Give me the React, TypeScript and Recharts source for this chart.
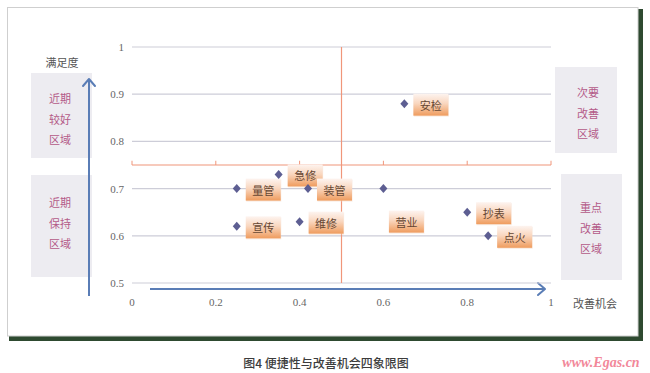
import React from "react";
import {
  ScatterChart,
  Scatter,
  XAxis,
  YAxis,
  CartesianGrid,
  ReferenceLine,
} from "recharts";

// 四象限图数据
const categories = ["安检", "急修", "量管", "装管", "营业", "宣传", "维修", "抄表", "点火"];
const improvement = [0.65, 0.35, 0.25, 0.42, 0.6, 0.25, 0.4, 0.8, 0.85];
const satisfaction = [0.88, 0.73, 0.7, 0.7, 0.7, 0.62, 0.63, 0.65, 0.6];
const xTicks = [0, 0.2, 0.4, 0.6, 0.8, 1];
const yTicks = [0.5, 0.6, 0.7, 0.8, 0.9, 1];
const xSplit = 0.5;
const ySplit = 0.75;

const points = categories.map((name, i) => ({
  name,
  x: improvement[i],
  y: satisfaction[i],
}));

const serif = "'Liberation Serif', 'Noto Sans CJK SC', serif";
const cjk = "'Noto Sans CJK SC', sans-serif";
const red = "#f0967a";
const blue = "#5a7db6";

const Diamond = (props: any) => {
  const { cx, cy } = props;
  if (cx == null || cy == null) return null;
  return (
    <polygon
      points={`${cx},${cy - 4.5} ${cx + 4},${cy} ${cx},${cy + 4.5} ${cx - 4},${cy}`}
      fill="#5d5e92"
    />
  );
};

const Tag = (props: any) => {
  const { cx, cy, payload } = props;
  if (cx == null || cy == null) return null;
  // 营业的标签放在点的右下方
  const moved = payload.name === "营业";
  const lx = cx + (moved ? 23 : 26.5);
  const ly = cy + (moved ? 33 : 1);
  return (
    <g>
      <rect x={lx - 17} y={ly - 10} width={35} height={22} fill="#f3d9c8" opacity={0.5} />
      <rect x={lx - 17.5} y={ly - 11} width={35} height={22} fill="url(#tagFill)" />
      <text
        x={lx}
        y={ly}
        textAnchor="middle"
        dominantBaseline="central"
        fontSize={11}
        fontFamily={cjk}
        fill="#654633"
      >
        {payload.name}
      </text>
    </g>
  );
};

const Arrow = ({ d, head }: { d: string; head: string }) => (
  <g stroke={blue} fill="none" strokeWidth={2}>
    <path d={d} />
    <path d={head} strokeLinecap="round" strokeLinejoin="round" />
  </g>
);

const SideBox = ({ x, y, w, h, lines, tx, ty }: any) => (
  <g>
    <rect x={x} y={y} width={w} height={h} fill="#edecf1" />
    {lines.map((t: string, i: number) => (
      <text
        key={t + i}
        x={tx}
        y={ty + i * 20.5}
        textAnchor="middle"
        dominantBaseline="central"
        fontSize={11}
        fontFamily={cjk}
        fill="#b45a88"
      >
        {t}
      </text>
    ))}
  </g>
);

export default function App() {
  return (
    <div style={{ position: "absolute", left: 0, top: 0, width: 650, height: 373, background: "#fff" }}>
      <svg width={650} height={373} style={{ position: "absolute", left: 0, top: 0 }}>
        <defs>
          <linearGradient id="tagFill" x1="0" y1="0" x2="0" y2="1">
            <stop offset="0%" stopColor="#fdf4f0" />
            <stop offset="45%" stopColor="#f9d6be" />
            <stop offset="100%" stopColor="#ef9c5e" />
          </linearGradient>
        </defs>
        {/* 外框 */}
        <rect x={9} y={336} width={634} height={5} fill="#2e4a30" />
        <rect x={638} y={9} width={5} height={332} fill="#2e4a30" />
        <rect x={7.5} y={7.5} width={630.5} height={328.5} fill="#fff" stroke="#cfcfcf" />

        <SideBox x={31} y={73} w={61} h={85} lines={["近期", "较好", "区域"]} tx={60} ty={98} />
        <SideBox x={31} y={175} w={61} h={102} lines={["近期", "保持", "区域"]} tx={60} ty={202} />
        <SideBox x={555} y={67} w={62} h={86} lines={["次要", "改善", "区域"]} tx={588} ty={92} />
        <SideBox x={561} y={174} w={61} h={106} lines={["重点", "改善", "区域"]} tx={591} ty={207} />

        <Arrow d="M89 296 L89 79" head="M83 86 L89 79 L95 86" />
        <Arrow d="M150 289 L545 289" head="M538 283 L545 289 L538 295" />

        <text x={62} y={62} textAnchor="middle" dominantBaseline="central" fontSize={11} fontFamily={cjk} fill="#555">
          满足度
        </text>
        <text x={595} y={303} textAnchor="middle" dominantBaseline="central" fontSize={11} fontFamily={cjk} fill="#555">
          改善机会
        </text>
        <text
          x={326}
          y={362}
          textAnchor="middle"
          dominantBaseline="central"
          fontSize={12}
          fontWeight={500}
          fontFamily={cjk}
          fill="#3c3c3c"
        >
          图4 便捷性与改善机会四象限图
        </text>
        <text
          x={601}
          y={362}
          textAnchor="middle"
          dominantBaseline="central"
          fontSize={14}
          fontStyle="italic"
          fontWeight="bold"
          fontFamily={serif}
          fill="#f2889a"
        >
          www.Egas.cn
        </text>
      </svg>

      <div style={{ position: "absolute", left: 0, top: 0 }}>
        <ScatterChart width={650} height={373} margin={{ top: 47, right: 99, bottom: 60, left: 92 }}>
          <CartesianGrid vertical={false} stroke="#cdcdd8" strokeWidth={1.2} />
          <XAxis
            type="number"
            dataKey="x"
            domain={[0, 1]}
            ticks={xTicks}
            height={30}
            axisLine={false}
            tickLine={false}
            tickMargin={9}
            tick={{ fontSize: 11, fontFamily: serif, fill: "#666" }}
          />
          <YAxis
            type="number"
            dataKey="y"
            domain={[0.5, 1]}
            ticks={yTicks}
            width={40}
            axisLine={false}
            tickLine={false}
            tick={{ fontSize: 11, fontFamily: serif, fill: "#666" }}
          />
          <ReferenceLine x={xSplit} stroke={red} strokeWidth={1.2} />
          <ReferenceLine y={ySplit} stroke={red} strokeWidth={1.2} />
          {xTicks.map((t) => (
            <ReferenceLine
              key={t}
              segment={[
                { x: t, y: ySplit },
                { x: t, y: ySplit + 0.009 },
              ]}
              stroke={red}
              strokeWidth={1}
            />
          ))}
          <Scatter data={points} shape={<Tag />} isAnimationActive={false} />
          <Scatter data={points} shape={<Diamond />} isAnimationActive={false} />
        </ScatterChart>
      </div>
    </div>
  );
}
